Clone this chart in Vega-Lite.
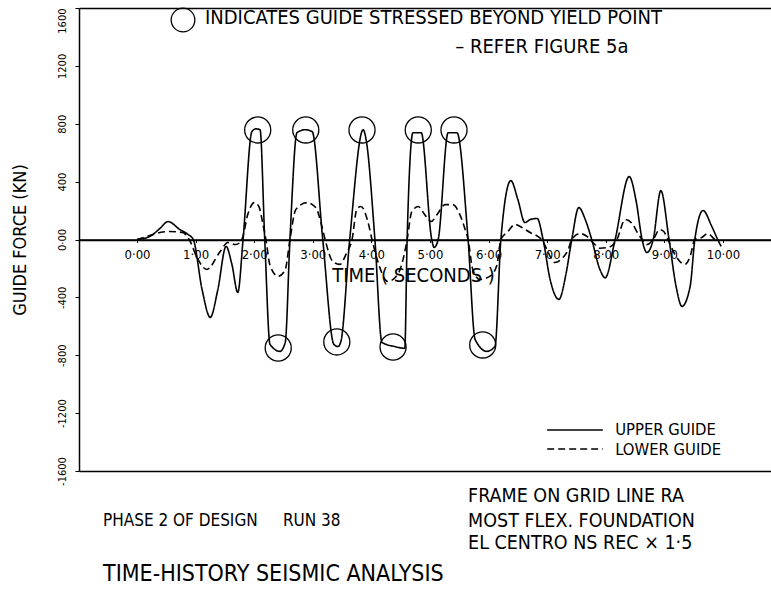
{
  "$schema": "https://vega.github.io/schema/vega-lite/v6.json",
  "width": 692,
  "height": 463,
  "autosize": {"type": "none"},
  "padding": {"left": 79, "top": 8, "right": 0, "bottom": 123},
  "background": "white",
  "config": {
    "view": {"stroke": null},
    "font": "DejaVu Sans Condensed, Liberation Sans Narrow, Liberation Sans, sans-serif",
    "axis": {"domainColor": "black", "tickColor": "black", "labelColor": "black", "titleColor": "black", "titleFontWeight": "normal"}
  },
  "datasets": {
    "guide": [
      {"guide": "UPPER GUIDE", "t": 0, "force": 0},
      {"guide": "UPPER GUIDE", "t": 0.22, "force": 21},
      {"guide": "UPPER GUIDE", "t": 0.39, "force": 76},
      {"guide": "UPPER GUIDE", "t": 0.53, "force": 124},
      {"guide": "UPPER GUIDE", "t": 0.73, "force": 69},
      {"guide": "UPPER GUIDE", "t": 0.87, "force": 35},
      {"guide": "UPPER GUIDE", "t": 0.96, "force": 0},
      {"guide": "UPPER GUIDE", "t": 1.11, "force": -345},
      {"guide": "UPPER GUIDE", "t": 1.25, "force": -538},
      {"guide": "UPPER GUIDE", "t": 1.38, "force": -345},
      {"guide": "UPPER GUIDE", "t": 1.52, "force": -48},
      {"guide": "UPPER GUIDE", "t": 1.62, "force": -173},
      {"guide": "UPPER GUIDE", "t": 1.72, "force": -366},
      {"guide": "UPPER GUIDE", "t": 1.81, "force": 0},
      {"guide": "UPPER GUIDE", "t": 1.96, "force": 745},
      {"guide": "UPPER GUIDE", "t": 2.03, "force": 765},
      {"guide": "UPPER GUIDE", "t": 2.10, "force": 759},
      {"guide": "UPPER GUIDE", "t": 2.18, "force": 0},
      {"guide": "UPPER GUIDE", "t": 2.27, "force": -725},
      {"guide": "UPPER GUIDE", "t": 2.44, "force": -773},
      {"guide": "UPPER GUIDE", "t": 2.53, "force": -711},
      {"guide": "UPPER GUIDE", "t": 2.61, "force": 0},
      {"guide": "UPPER GUIDE", "t": 2.73, "force": 738},
      {"guide": "UPPER GUIDE", "t": 2.87, "force": 759},
      {"guide": "UPPER GUIDE", "t": 2.99, "force": 745},
      {"guide": "UPPER GUIDE", "t": 3.17, "force": 0},
      {"guide": "UPPER GUIDE", "t": 3.36, "force": -725},
      {"guide": "UPPER GUIDE", "t": 3.43, "force": -740},
      {"guide": "UPPER GUIDE", "t": 3.48, "force": -704},
      {"guide": "UPPER GUIDE", "t": 3.63, "force": 0},
      {"guide": "UPPER GUIDE", "t": 3.86, "force": 759},
      {"guide": "UPPER GUIDE", "t": 3.91, "force": 690},
      {"guide": "UPPER GUIDE", "t": 4.06, "force": 0},
      {"guide": "UPPER GUIDE", "t": 4.18, "force": -711},
      {"guide": "UPPER GUIDE", "t": 4.40, "force": -740},
      {"guide": "UPPER GUIDE", "t": 4.57, "force": -752},
      {"guide": "UPPER GUIDE", "t": 4.61, "force": 0},
      {"guide": "UPPER GUIDE", "t": 4.71, "force": 738},
      {"guide": "UPPER GUIDE", "t": 4.85, "force": 738},
      {"guide": "UPPER GUIDE", "t": 5.03, "force": 0},
      {"guide": "UPPER GUIDE", "t": 5.07, "force": -55},
      {"guide": "UPPER GUIDE", "t": 5.14, "force": 0},
      {"guide": "UPPER GUIDE", "t": 5.31, "force": 738},
      {"guide": "UPPER GUIDE", "t": 5.46, "force": 738},
      {"guide": "UPPER GUIDE", "t": 5.65, "force": 0},
      {"guide": "UPPER GUIDE", "t": 5.77, "force": -690},
      {"guide": "UPPER GUIDE", "t": 5.97, "force": -773},
      {"guide": "UPPER GUIDE", "t": 6.11, "force": -738},
      {"guide": "UPPER GUIDE", "t": 6.21, "force": 0},
      {"guide": "UPPER GUIDE", "t": 6.38, "force": 407},
      {"guide": "UPPER GUIDE", "t": 6.50, "force": 276},
      {"guide": "UPPER GUIDE", "t": 6.62, "force": 117},
      {"guide": "UPPER GUIDE", "t": 6.71, "force": 138},
      {"guide": "UPPER GUIDE", "t": 6.83, "force": 145},
      {"guide": "UPPER GUIDE", "t": 6.93, "force": 0},
      {"guide": "UPPER GUIDE", "t": 7.05, "force": -276},
      {"guide": "UPPER GUIDE", "t": 7.20, "force": -414},
      {"guide": "UPPER GUIDE", "t": 7.32, "force": -241},
      {"guide": "UPPER GUIDE", "t": 7.42, "force": 0},
      {"guide": "UPPER GUIDE", "t": 7.54, "force": 221},
      {"guide": "UPPER GUIDE", "t": 7.65, "force": 138},
      {"guide": "UPPER GUIDE", "t": 7.76, "force": 0},
      {"guide": "UPPER GUIDE", "t": 7.90, "force": -207},
      {"guide": "UPPER GUIDE", "t": 7.99, "force": -265},
      {"guide": "UPPER GUIDE", "t": 8.16, "force": 0},
      {"guide": "UPPER GUIDE", "t": 8.40, "force": 435},
      {"guide": "UPPER GUIDE", "t": 8.52, "force": 262},
      {"guide": "UPPER GUIDE", "t": 8.62, "force": 0},
      {"guide": "UPPER GUIDE", "t": 8.70, "force": -90},
      {"guide": "UPPER GUIDE", "t": 8.81, "force": 0},
      {"guide": "UPPER GUIDE", "t": 8.94, "force": 338},
      {"guide": "UPPER GUIDE", "t": 9.08, "force": 0},
      {"guide": "UPPER GUIDE", "t": 9.20, "force": -324},
      {"guide": "UPPER GUIDE", "t": 9.30, "force": -462},
      {"guide": "UPPER GUIDE", "t": 9.44, "force": -324},
      {"guide": "UPPER GUIDE", "t": 9.52, "force": 0},
      {"guide": "UPPER GUIDE", "t": 9.66, "force": 200},
      {"guide": "UPPER GUIDE", "t": 9.81, "force": 90},
      {"guide": "UPPER GUIDE", "t": 9.91, "force": 0},
      {"guide": "UPPER GUIDE", "t": 9.97, "force": -48},
      {"guide": "LOWER GUIDE", "t": 0, "force": 0},
      {"guide": "LOWER GUIDE", "t": 0.17, "force": 21},
      {"guide": "LOWER GUIDE", "t": 0.39, "force": 48},
      {"guide": "LOWER GUIDE", "t": 0.56, "force": 55},
      {"guide": "LOWER GUIDE", "t": 0.78, "force": 48},
      {"guide": "LOWER GUIDE", "t": 0.89, "force": 0},
      {"guide": "LOWER GUIDE", "t": 1.04, "force": -138},
      {"guide": "LOWER GUIDE", "t": 1.19, "force": -207},
      {"guide": "LOWER GUIDE", "t": 1.42, "force": -83},
      {"guide": "LOWER GUIDE", "t": 1.55, "force": -21},
      {"guide": "LOWER GUIDE", "t": 1.69, "force": -35},
      {"guide": "LOWER GUIDE", "t": 1.79, "force": 0},
      {"guide": "LOWER GUIDE", "t": 1.89, "force": 172},
      {"guide": "LOWER GUIDE", "t": 2.00, "force": 255},
      {"guide": "LOWER GUIDE", "t": 2.08, "force": 228},
      {"guide": "LOWER GUIDE", "t": 2.15, "force": 104},
      {"guide": "LOWER GUIDE", "t": 2.20, "force": 0},
      {"guide": "LOWER GUIDE", "t": 2.27, "force": -179},
      {"guide": "LOWER GUIDE", "t": 2.41, "force": -255},
      {"guide": "LOWER GUIDE", "t": 2.53, "force": -207},
      {"guide": "LOWER GUIDE", "t": 2.61, "force": 0},
      {"guide": "LOWER GUIDE", "t": 2.71, "force": 207},
      {"guide": "LOWER GUIDE", "t": 2.90, "force": 255},
      {"guide": "LOWER GUIDE", "t": 3.05, "force": 221},
      {"guide": "LOWER GUIDE", "t": 3.16, "force": 83},
      {"guide": "LOWER GUIDE", "t": 3.21, "force": 0},
      {"guide": "LOWER GUIDE", "t": 3.34, "force": -152},
      {"guide": "LOWER GUIDE", "t": 3.46, "force": -172},
      {"guide": "LOWER GUIDE", "t": 3.58, "force": -90},
      {"guide": "LOWER GUIDE", "t": 3.67, "force": 0},
      {"guide": "LOWER GUIDE", "t": 3.75, "force": 207},
      {"guide": "LOWER GUIDE", "t": 3.82, "force": 228},
      {"guide": "LOWER GUIDE", "t": 3.94, "force": 124},
      {"guide": "LOWER GUIDE", "t": 4.01, "force": 0},
      {"guide": "LOWER GUIDE", "t": 4.11, "force": -152},
      {"guide": "LOWER GUIDE", "t": 4.28, "force": -290},
      {"guide": "LOWER GUIDE", "t": 4.45, "force": -241},
      {"guide": "LOWER GUIDE", "t": 4.56, "force": -104},
      {"guide": "LOWER GUIDE", "t": 4.61, "force": 0},
      {"guide": "LOWER GUIDE", "t": 4.69, "force": 193},
      {"guide": "LOWER GUIDE", "t": 4.80, "force": 228},
      {"guide": "LOWER GUIDE", "t": 4.91, "force": 172},
      {"guide": "LOWER GUIDE", "t": 5.02, "force": 124},
      {"guide": "LOWER GUIDE", "t": 5.12, "force": 172},
      {"guide": "LOWER GUIDE", "t": 5.26, "force": 241},
      {"guide": "LOWER GUIDE", "t": 5.39, "force": 241},
      {"guide": "LOWER GUIDE", "t": 5.51, "force": 172},
      {"guide": "LOWER GUIDE", "t": 5.60, "force": 69},
      {"guide": "LOWER GUIDE", "t": 5.65, "force": 0},
      {"guide": "LOWER GUIDE", "t": 5.73, "force": -207},
      {"guide": "LOWER GUIDE", "t": 5.85, "force": -276},
      {"guide": "LOWER GUIDE", "t": 6.02, "force": -255},
      {"guide": "LOWER GUIDE", "t": 6.14, "force": -179},
      {"guide": "LOWER GUIDE", "t": 6.21, "force": 0},
      {"guide": "LOWER GUIDE", "t": 6.33, "force": 55},
      {"guide": "LOWER GUIDE", "t": 6.45, "force": 104},
      {"guide": "LOWER GUIDE", "t": 6.57, "force": 83},
      {"guide": "LOWER GUIDE", "t": 6.71, "force": 48},
      {"guide": "LOWER GUIDE", "t": 6.84, "force": 21},
      {"guide": "LOWER GUIDE", "t": 6.93, "force": -14},
      {"guide": "LOWER GUIDE", "t": 7.01, "force": -83},
      {"guide": "LOWER GUIDE", "t": 7.13, "force": -159},
      {"guide": "LOWER GUIDE", "t": 7.27, "force": -124},
      {"guide": "LOWER GUIDE", "t": 7.36, "force": -69},
      {"guide": "LOWER GUIDE", "t": 7.42, "force": 0},
      {"guide": "LOWER GUIDE", "t": 7.56, "force": 41},
      {"guide": "LOWER GUIDE", "t": 7.68, "force": 21},
      {"guide": "LOWER GUIDE", "t": 7.78, "force": -21},
      {"guide": "LOWER GUIDE", "t": 7.90, "force": -60},
      {"guide": "LOWER GUIDE", "t": 8.04, "force": -55},
      {"guide": "LOWER GUIDE", "t": 8.19, "force": 0},
      {"guide": "LOWER GUIDE", "t": 8.33, "force": 138},
      {"guide": "LOWER GUIDE", "t": 8.45, "force": 110},
      {"guide": "LOWER GUIDE", "t": 8.55, "force": 41},
      {"guide": "LOWER GUIDE", "t": 8.62, "force": 0},
      {"guide": "LOWER GUIDE", "t": 8.70, "force": -35},
      {"guide": "LOWER GUIDE", "t": 8.81, "force": 0},
      {"guide": "LOWER GUIDE", "t": 8.92, "force": 69},
      {"guide": "LOWER GUIDE", "t": 8.99, "force": 55},
      {"guide": "LOWER GUIDE", "t": 9.06, "force": 0},
      {"guide": "LOWER GUIDE", "t": 9.20, "force": -117},
      {"guide": "LOWER GUIDE", "t": 9.35, "force": -172},
      {"guide": "LOWER GUIDE", "t": 9.44, "force": -117},
      {"guide": "LOWER GUIDE", "t": 9.52, "force": 0},
      {"guide": "LOWER GUIDE", "t": 9.64, "force": 14},
      {"guide": "LOWER GUIDE", "t": 9.74, "force": 41},
      {"guide": "LOWER GUIDE", "t": 9.86, "force": 0},
      {"guide": "LOWER GUIDE", "t": 9.91, "force": -14}
    ],
    "yield": [
      {"t": 2.06, "force": 757},
      {"t": 2.88, "force": 757},
      {"t": 3.84, "force": 757},
      {"t": 4.80, "force": 757},
      {"t": 5.41, "force": 757},
      {"t": 2.41, "force": -750},
      {"t": 3.41, "force": -708},
      {"t": 4.37, "force": -743},
      {"t": 5.90, "force": -729}
    ],
    "symbol": [
      {"t": 0.785, "force": 1517}
    ],
    "key": [
      {"guide": "UPPER GUIDE", "t": 7.0, "t2": 7.95, "force": -1317},
      {"guide": "LOWER GUIDE", "t": 7.0, "t2": 7.95, "force": -1448}
    ],
    "notes": [
      {"kind": "top", "t": 1.16, "force": 1531, "label": "INDICATES GUIDE STRESSED  BEYOND YIELD POINT"},
      {"kind": "top", "t": 5.43, "force": 1330, "label": "– REFER  FIGURE 5a"},
      {"kind": "key", "t": 8.16, "force": -1320, "label": "UPPER GUIDE"},
      {"kind": "key", "t": 8.16, "force": -1455, "label": "LOWER GUIDE"},
      {"kind": "info", "t": -0.58, "force": -1945, "label": "PHASE 2 OF DESIGN"},
      {"kind": "info", "t": 2.49, "force": -1945, "label": "RUN 38"},
      {"kind": "frame", "t": 5.65, "force": -1773, "label": "FRAME ON GRID LINE RA"},
      {"kind": "frame", "t": 5.65, "force": -1945, "label": "MOST  FLEX. FOUNDATION"},
      {"kind": "frame", "t": 5.65, "force": -2100, "label": "EL CENTRO NS REC × 1·5"},
      {"kind": "heading", "t": -0.58, "force": -2312, "label": "TIME-HISTORY SEISMIC ANALYSIS"}
    ]
  },
  "layer": [
    {
      "data": {"name": "guide"},
      "mark": {"type": "line", "interpolate": "monotone", "strokeWidth": 1.6, "color": "black"},
      "encoding": {
        "x": {
          "field": "t", "type": "quantitative",
          "scale": {"domain": [-0.99, 10.82], "nice": false, "zero": false},
          "axis": {
            "orient": "bottom", "offset": -231.5,
            "values": [0, 1, 2, 3, 4, 5, 6, 7, 8, 9, 10],
            "labelExpr": "replace(format(datum.value, '.2f'), '.', '·')",
            "labelFontSize": 13, "labelPadding": 6, "tickSize": 3, "grid": false,
            "domainWidth": 1.3, "labelFlush": false,
            "title": "TIME ( SECONDS )", "titleFontSize": 20,
            "titleX": 334, "titleY": 36, "titleBaseline": "middle"
          }
        },
        "y": {
          "field": "force", "type": "quantitative",
          "scale": {"domain": [-1600, 1600], "nice": false, "zero": false},
          "axis": {
            "orient": "left",
            "values": [-1600, -1200, -800, -400, 0, 400, 800, 1200, 1600],
            "labelExpr": "datum.value == 0 ? '0·00' : '' + datum.value",
            "labelAngle": -90,
            "labelAlign": {"condition": {"test": "datum.value == 1600", "value": "right"}, "value": "center"},
            "labelBaseline": "bottom",
            "labelFontSize": 11, "labelPadding": 8, "tickSize": 4, "grid": false,
            "domainWidth": 1.5, "labelFlush": false, "labelOverlap": false,
            "title": "GUIDE FORCE (KN)", "titleFontSize": 18, "titlePadding": 27
          }
        },
        "strokeDash": {
          "field": "guide", "type": "nominal",
          "scale": {"domain": ["UPPER GUIDE", "LOWER GUIDE"], "range": [[1, 0], [7, 4]]},
          "legend": null
        }
      }
    },
    {
      "data": {"name": "yield"},
      "mark": {"type": "point", "shape": "circle", "filled": false, "size": 680, "stroke": "black", "strokeWidth": 1.3, "opacity": 1},
      "encoding": {
        "x": {"field": "t", "type": "quantitative", "axis": null},
        "y": {
          "field": "force", "type": "quantitative",
          "axis": {
            "orient": "right", "values": [-1600, 0, 1600], "grid": true,
            "gridColor": "black", "gridOpacity": 1, "gridWidth": 1.5,
            "labels": false, "ticks": false, "domain": false, "title": null
          }
        }
      }
    },
    {
      "data": {"name": "symbol"},
      "mark": {"type": "point", "shape": "circle", "filled": false, "size": 560, "stroke": "black", "strokeWidth": 1.3, "opacity": 1},
      "encoding": {
        "x": {"field": "t", "type": "quantitative", "axis": null},
        "y": {"field": "force", "type": "quantitative", "axis": null}
      }
    },
    {
      "data": {"name": "key"},
      "mark": {"type": "rule", "strokeWidth": 1.6, "color": "black"},
      "encoding": {
        "x": {"field": "t", "type": "quantitative", "axis": null},
        "x2": {"field": "t2"},
        "y": {"field": "force", "type": "quantitative", "axis": null},
        "strokeDash": {"field": "guide", "type": "nominal", "legend": null}
      }
    },
    {
      "data": {"name": "notes"},
      "transform": [{"filter": "datum.kind == 'top'"}],
      "mark": {"type": "text", "align": "left", "baseline": "middle", "color": "black", "fontSize": 20},
      "encoding": {
        "x": {"field": "t", "type": "quantitative", "axis": null},
        "y": {"field": "force", "type": "quantitative", "axis": null},
        "text": {"field": "label"}
      }
    },
    {
      "data": {"name": "notes"},
      "transform": [{"filter": "datum.kind == 'key'"}],
      "mark": {"type": "text", "align": "left", "baseline": "middle", "color": "black", "fontSize": 16.5},
      "encoding": {
        "x": {"field": "t", "type": "quantitative", "axis": null},
        "y": {"field": "force", "type": "quantitative", "axis": null},
        "text": {"field": "label"}
      }
    },
    {
      "data": {"name": "notes"},
      "transform": [{"filter": "datum.kind == 'info'"}],
      "mark": {"type": "text", "align": "left", "baseline": "middle", "color": "black", "fontSize": 17},
      "encoding": {
        "x": {"field": "t", "type": "quantitative", "axis": null},
        "y": {"field": "force", "type": "quantitative", "axis": null},
        "text": {"field": "label"}
      }
    },
    {
      "data": {"name": "notes"},
      "transform": [{"filter": "datum.kind == 'frame'"}],
      "mark": {"type": "text", "align": "left", "baseline": "middle", "color": "black", "fontSize": 19.5},
      "encoding": {
        "x": {"field": "t", "type": "quantitative", "axis": null},
        "y": {"field": "force", "type": "quantitative", "axis": null},
        "text": {"field": "label"}
      }
    },
    {
      "data": {"name": "notes"},
      "transform": [{"filter": "datum.kind == 'heading'"}],
      "mark": {"type": "text", "align": "left", "baseline": "middle", "color": "black", "fontSize": 23},
      "encoding": {
        "x": {"field": "t", "type": "quantitative", "axis": null},
        "y": {"field": "force", "type": "quantitative", "axis": null},
        "text": {"field": "label"}
      }
    }
  ],
  "resolve": {"axis": {"x": "independent", "y": "independent"}}
}
